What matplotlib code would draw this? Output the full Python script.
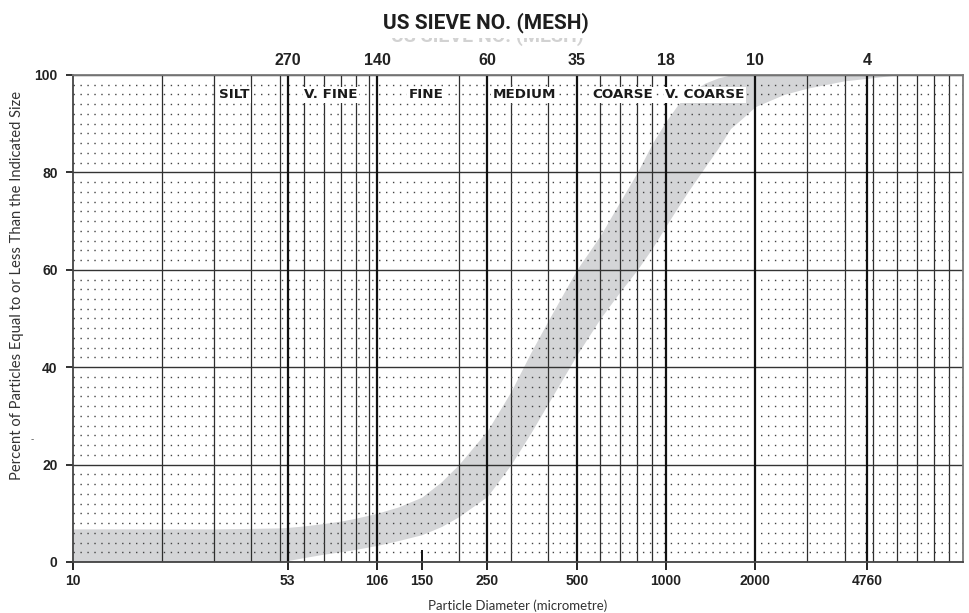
import matplotlib
matplotlib.use('Agg')
import matplotlib.pyplot as plt
from matplotlib.ticker import LogLocator, MultipleLocator, NullLocator, NullFormatter
from matplotlib.patches import Rectangle
import numpy as np

plt.rcParams['font.family'] = ['Liberation Sans', 'DejaVu Sans']

# sieve sizes (micrometre) and the matching US mesh numbers
sieve_um = [53, 106, 250, 500, 1000, 2000, 4760]
mesh_no = ['270', '140', '60', '35', '18', '10', '4']
bottom_ticks = [10, 53, 106, 150, 250, 500, 1000, 2000, 4760]
mark_150 = 150
mark_150_height = 2.5

# grain classes along the top
class_names = ['SILT', 'V. FINE', 'FINE', 'MEDIUM', 'COARSE', 'V. COARSE']
class_x = [35, 74, 155, 333, 717, 1350]
class_y = 95.9

# envelope of the grading band (percent passing)
band_x = [10, 20, 30, 40, 50, 53, 60, 70, 80, 90, 106, 125, 150, 175, 200, 250,
          300, 350, 400, 500, 600, 700, 800, 900, 1000, 1100, 1200, 1350, 1500,
          1650, 1800, 2000, 2500, 3000, 4000, 4760, 6000, 10000]
band_upper = [6.8, 6.8, 6.8, 6.9, 7.0, 7.1, 7.4, 7.9, 8.4, 9.0, 10.0, 11.3, 13.3,
              16.5, 20.0, 27.0, 35.0, 43.0, 49.5, 60.0, 67.0, 74.0, 80.0, 86.0,
              90.5, 94.0, 96.2, 98.3, 99.4, 100, 100, 100, 100, 100, 100, 100,
              100, 100]
band_lower = [0, 0, 0, 0, 0, 0.3, 0.9, 1.6, 2.1, 2.6, 3.4, 4.4, 5.6, 7.3, 9.3,
              13.5, 20.0, 26.5, 32.5, 42.5, 50.0, 55.5, 60.0, 64.5, 69.0, 73.0,
              76.5, 81.0, 85.0, 89.0, 91.0, 93.5, 96.0, 97.3, 98.8, 99.3, 100, 100]

fig = plt.figure(figsize=(9.69, 6.13), dpi=100)
ax = fig.add_axes([0.0753, 0.0832, 0.918, 0.7945])
ax.set_xscale('log')
ax.set_xlim(10, 10000)
ax.set_ylim(0, 100)

ax.fill_between(band_x, band_lower, band_upper, color='#d4d5d7', lw=0, zorder=0.5)

# grid: thin log lines, dotted rows every 2 %, solid rows every 20 %
ax.xaxis.set_minor_locator(LogLocator(base=10, subs=np.arange(1, 10), numticks=50))
ax.xaxis.set_minor_formatter(NullFormatter())
ax.yaxis.set_major_locator(MultipleLocator(20))
ax.yaxis.set_minor_locator(MultipleLocator(2))
ax.xaxis.grid(True, which='minor', color='#2e2e2e', lw=0.9)
ax.xaxis.grid(False, which='major')
ax.yaxis.grid(True, which='minor', color='#444444', lw=1.0, ls=(0, (1, 4)))
ax.yaxis.grid(True, which='major', color='#333333', lw=1.0)
ax.set_axisbelow(True)

for s in sieve_um:
    ax.axvline(s, color='#111111', lw=1.6, zorder=1.5)
ax.vlines(mark_150, 0, mark_150_height, color='#111111', lw=1.4, zorder=1.5)

ax.set_xticks(bottom_ticks, labels=[str(t) for t in bottom_ticks])
ax.tick_params(axis='x', which='major', direction='out', length=6, width=1.4,
               pad=3, labelsize=10, color='#222222')
ax.tick_params(axis='y', which='major', direction='out', length=5, width=1.3,
               pad=6, labelsize=10, color='#222222')
ax.tick_params(which='minor', length=0)
for lab in ax.get_xticklabels() + ax.get_yticklabels():
    lab.set_fontweight('bold')
    lab.set_color('#222222')

for side, col in [('top', '#7a7a7a'), ('right', '#7a7a7a'),
                  ('left', '#444444'), ('bottom', '#444444')]:
    ax.spines[side].set_color(col)
    ax.spines[side].set_linewidth(1.3)

# mesh numbers along the top
sec = ax.secondary_xaxis('top')
sec.set_xticks(sieve_um, labels=mesh_no)
sec.xaxis.set_minor_locator(NullLocator())
sec.tick_params(length=0, pad=5, labelsize=11.5)
for lab in sec.get_xticklabels():
    lab.set_fontweight('bold')
    lab.set_color('#222222')
sec.spines['top'].set_visible(False)

for name, x in zip(class_names, class_x):
    ax.text(x, class_y, name, ha='center', va='center', fontsize=9.7,
            fontweight='bold', color='#1a1a1a', zorder=4,
            family=['DejaVu Sans'],
            bbox=dict(boxstyle='square,pad=0.1', fc='white', ec='none'))

ax.set_xlabel('Particle Diameter (micrometre)', fontsize=9.5, color='#333333',
              family=['Lato', 'DejaVu Sans'], labelpad=8)
ax.set_ylabel('Percent of Particles Equal to or Less Than the Indicated Size',
              fontsize=10.6, color='#333333', family=['Lato', 'DejaVu Sans'])
ax.yaxis.set_label_coords(-0.055, 0.567)

# title plus the faded, cut-off copy beneath it
title_font = ['Roboto', 'DejaVu Sans']
fig.text(0.503, 1 - 42 / 613, 'US SIEVE NO. (MESH)', ha='center', va='baseline',
         fontsize=14, fontweight='bold', family=title_font,
         color='#d2d2d2', zorder=1)
fig.patches.append(Rectangle((0.3, 1 - 38 / 613), 0.4, 12 / 613,
                             transform=fig.transFigure, fc='white', ec='none',
                             zorder=2))
fig.text(0.501, 1 - 28 / 613, 'US SIEVE NO. (MESH)', ha='center', va='baseline',
         fontsize=15, fontweight='bold', family=title_font,
         color='#1e1e1e', zorder=3)
fig.text(0.033, 1 - 439 / 613, '-', ha='center', va='center', fontsize=7,
         color='#555555')

fig.savefig('out.png', dpi=100)
